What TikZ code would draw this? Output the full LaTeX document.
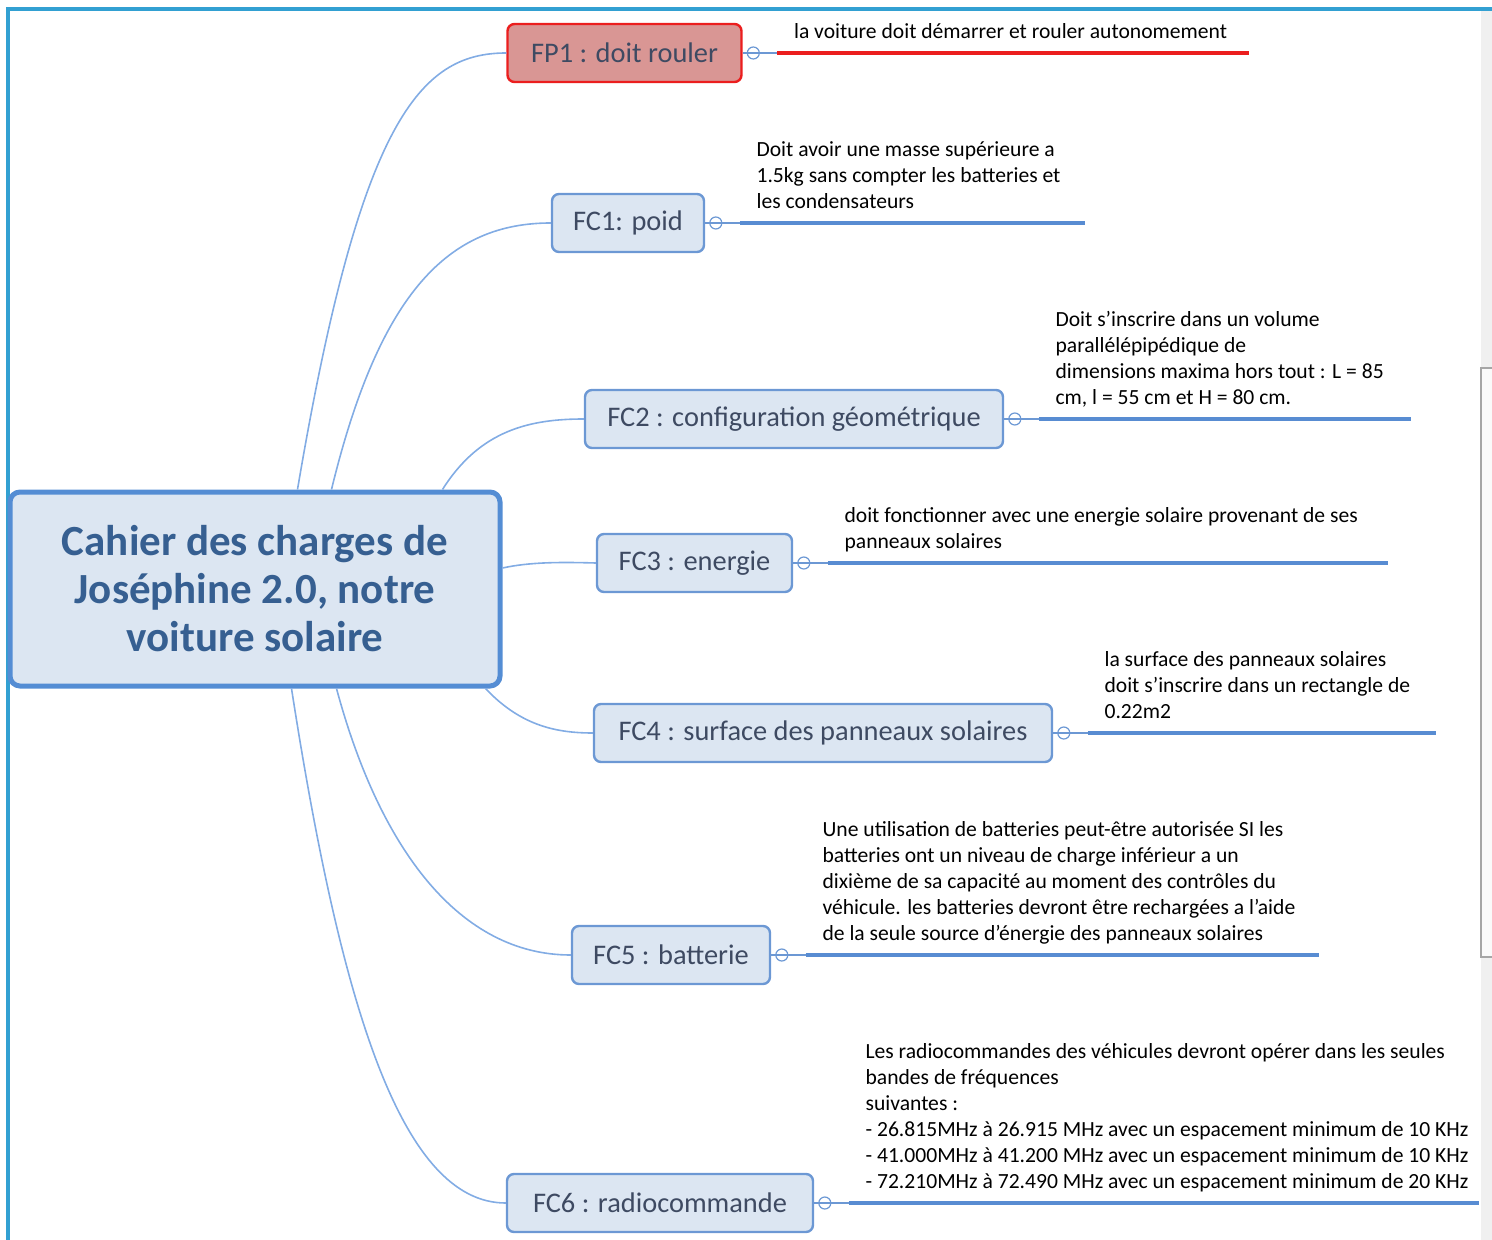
\documentclass[tikz,border=0pt]{standalone}
\usepackage{fontspec}
\setmainfont{Carlito}
\usetikzlibrary{positioning,calc}

\definecolor{framebl}{RGB}{50,160,210}
\definecolor{mainbd}{RGB}{84,141,212}
\definecolor{boxfill}{RGB}{220,230,242}
\definecolor{maintx}{RGB}{54,95,145}
\definecolor{topicbd}{RGB}{108,152,212}
\definecolor{topictx}{RGB}{62,74,98}
\definecolor{branchbl}{RGB}{130,172,228}
\definecolor{barbl}{RGB}{88,140,210}
\definecolor{fpfill}{RGB}{217,150,148}
\definecolor{fpred}{RGB}{235,30,30}

\tikzset{every picture/.style={line width=0.75pt}}

\begin{document}
\begin{tikzpicture}[x=0.5pt,y=-0.5pt,
  central/.style={draw=mainbd, line width=2.5pt, fill=boxfill, rounded corners=5pt,
    minimum width=245pt, minimum height=97pt, align=center, text=maintx,
    font=\fontsize{21.5}{24}\selectfont\bfseries},
  topic/.style={draw=topicbd, line width=1.2pt, fill=boxfill, rounded corners=3.5pt,
    minimum height=29pt, inner xsep=0pt, text=topictx, font=\fontsize{14.2}{16}\selectfont},
  marker/.style={circle, draw=topicbd, line width=0.6pt, inner sep=0pt, minimum size=6pt},
  branch/.style={draw=branchbl, line width=0.8pt},
  link/.style={draw=topicbd, line width=0.6pt},
  notebar/.style={draw=barbl, line width=1.6pt},
  note/.style={anchor=south west, inner sep=0pt, align=left, text depth=2.5pt,
    font=\fontsize{10.8}{13}\selectfont}
]
\useasboundingbox (0,0) rectangle (1492,1240);

%window frame and scroll bar
\fill[gray!12] (1481,10) rectangle (1492,1240);
\draw[gray!70, line width=0.8pt, fill=gray!4] (1481,368) rectangle (1493,957);
\draw[framebl, line width=1.6pt] (8,1240) -- (8,9) -- (1492,9);

%central topic
\node[central] (main) at (255,589) {Cahier des charges de\\Joséphine 2.0, notre\\voiture solaire};

%topics
\node[topic, minimum width=117pt, draw=fpred, fill=fpfill] (fp1) at (624.5,53) {FP1 : doit rouler};
\node[topic, minimum width=76pt] (fc1) at (628,223) {FC1: poid};
\node[topic, minimum width=209pt] (fc2) at (794,419) {FC2 : configuration géométrique};
\node[topic, minimum width=97.5pt] (fc3) at (694.5,563) {FC3 : energie};
\node[topic, minimum width=229pt] (fc4) at (823,733) {FC4 : surface des panneaux solaires};
\node[topic, minimum width=99pt] (fc5) at (671,955) {FC5 : batterie};
\node[topic, minimum width=153pt] (fc6) at (660,1203) {FC6 : radiocommande};

%branches
\draw[branch] ($(main.north west)+(290,0)$) .. controls (360,120) and (420,53) .. (fp1.west);
\draw[branch] ($(main.north west)+(324,0)$) .. controls (380,290) and (450,223) .. (fc1.west);
\draw[branch] ($(main.north west)+(435,0)$) .. controls (480,430) and (530,419) .. (fc2.west);
\draw[branch] ($(main.east)+(0,-21)$) .. controls (530,562) and (560,562) .. (fc3.west);
\draw[branch] ($(main.south east)+(-17,0)$) .. controls (520,725) and (555,733) .. (fc4.west);
\draw[branch] ($(main.south west)+(329,0)$) .. controls (380,850) and (460,955) .. (fc5.west);
\draw[branch] ($(main.south west)+(284,0)$) .. controls (340,1000) and (400,1203) .. (fc6.west);

%markers
\node[marker, right=2pt of fp1] (fp1m) {};
\node[marker, right=2pt of fc1] (fc1m) {};
\node[marker, right=2pt of fc2] (fc2m) {};
\node[marker, right=2pt of fc3] (fc3m) {};
\node[marker, right=2pt of fc4] (fc4m) {};
\node[marker, right=2pt of fc5] (fc5m) {};
\node[marker, right=2pt of fc6] (fc6m) {};

%bar ends
\coordinate (fp1s) at ($(fp1m)+(24,0)$);  \coordinate (fp1e) at ($(fp1s)+(472,0)$);
\coordinate (fc1s) at ($(fc1m)+(24,0)$);  \coordinate (fc1e) at ($(fc1s)+(345,0)$);
\coordinate (fc2s) at ($(fc2m)+(24,0)$);  \coordinate (fc2e) at ($(fc2s)+(372,0)$);
\coordinate (fc3s) at ($(fc3m)+(24,0)$);  \coordinate (fc3e) at ($(fc3s)+(560,0)$);
\coordinate (fc4s) at ($(fc4m)+(24,0)$);  \coordinate (fc4e) at ($(fc4s)+(348,0)$);
\coordinate (fc5s) at ($(fc5m)+(24,0)$);  \coordinate (fc5e) at ($(fc5s)+(513,0)$);
\coordinate (fc6s) at ($(fc6m)+(24,0)$);  \coordinate (fc6e) at ($(fc6s)+(630,0)$);

\draw[link] (fp1.east) -- (fp1s);
\draw[link] (fc1.east) -- (fc1s);
\draw[link] (fc2.east) -- (fc2s);
\draw[link] (fc3.east) -- (fc3s);
\draw[link] (fc4.east) -- (fc4s);
\draw[link] (fc5.east) -- (fc5s);
\draw[link] (fc6.east) -- (fc6s);

\draw[notebar, draw=fpred] (fp1s) -- (fp1e);
\draw[notebar] (fc1s) -- (fc1e);
\draw[notebar] (fc2s) -- (fc2e);
\draw[notebar] (fc3s) -- (fc3e);
\draw[notebar] (fc4s) -- (fc4e);
\draw[notebar] (fc5s) -- (fc5e);
\draw[notebar] (fc6s) -- (fc6e);

% Text Node
\node[note] (fp1t) at ($(fp1s)+(16,-9)$) {la voiture doit démarrer et rouler autonomement};
% Text Node
\node[note] (fc1t) at ($(fc1s)+(16,-9)$) {Doit avoir une masse supérieure a\\1.5kg sans compter les batteries et\\les condensateurs};
% Text Node
\node[note] (fc2t) at ($(fc2s)+(16,-9)$) {Doit s’inscrire dans un volume\\parallélépipédique de\\dimensions maxima hors tout : L = 85\\cm, l = 55 cm et H = 80 cm.};
% Text Node
\node[note] (fc3t) at ($(fc3s)+(16,-9)$) {doit fonctionner avec une energie solaire provenant de ses\\panneaux solaires};
% Text Node
\node[note] (fc4t) at ($(fc4s)+(16,-9)$) {la surface des panneaux solaires\\doit s'inscrire dans un rectangle de\\0.22m2};
% Text Node
\node[note] (fc5t) at ($(fc5s)+(16,-9)$) {Une utilisation de batteries peut-être autorisée SI les\\batteries ont un niveau de charge inférieur a un\\dixième de sa capacité au moment des contrôles du\\véhicule. les batteries devront être rechargées a l'aide\\de la seule source d'énergie des panneaux solaires};
% Text Node
\node[note] (fc6t) at ($(fc6s)+(16,-9)$) {Les radiocommandes des véhicules devront opérer dans les seules\\bandes de fréquences\\suivantes :\\- 26.815MHz à 26.915 MHz avec un espacement minimum de 10 KHz\\- 41.000MHz à 41.200 MHz avec un espacement minimum de 10 KHz\\- 72.210MHz à 72.490 MHz avec un espacement minimum de 20 KHz};

\end{tikzpicture}
\end{document}
